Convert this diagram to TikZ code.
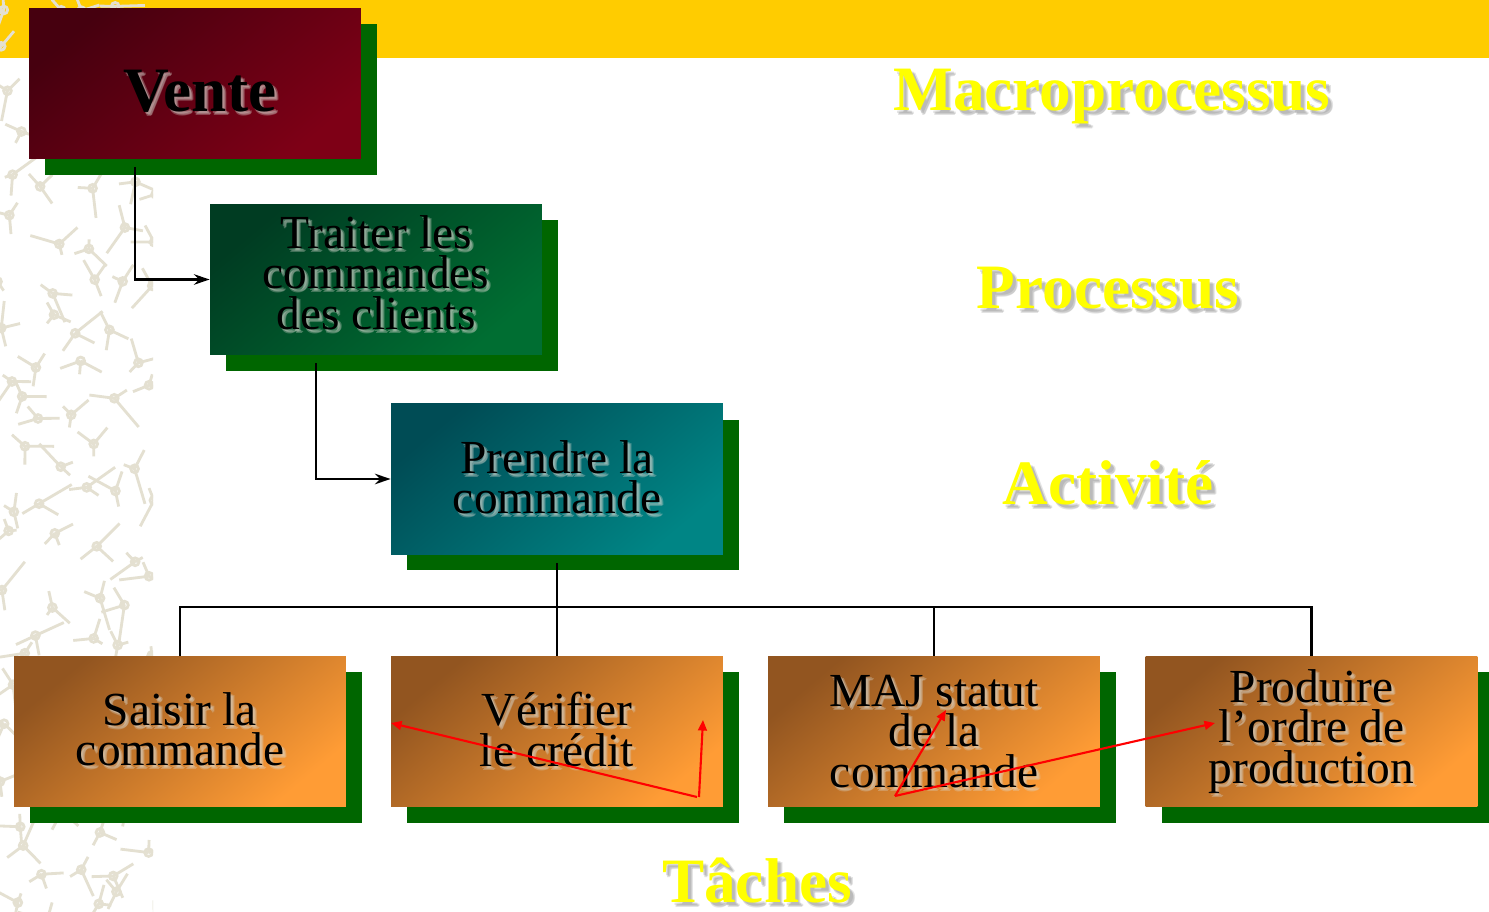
\documentclass[tikz,border=0pt]{standalone}
\usepackage{fontspec}
\setmainfont{Liberation Serif}
\usetikzlibrary{shadows,arrows.meta,calc}

\definecolor{band}{HTML}{FFCC00}
\definecolor{shgreen}{HTML}{006600}
\definecolor{maroonA}{HTML}{46000F}
\definecolor{maroonB}{HTML}{7E0016}
\definecolor{greenA}{HTML}{003C22}
\definecolor{greenB}{HTML}{006E32}
\definecolor{tealA}{HTML}{004C55}
\definecolor{tealB}{HTML}{008585}
\definecolor{orangeA}{HTML}{925520}
\definecolor{orangeB}{HTML}{FF9C35}
\definecolor{motif}{HTML}{E4E0D1}
\definecolor{titleyellow}{HTML}{FFFF00}
\definecolor{arrowred}{HTML}{FF0000}
\definecolor{halo}{HTML}{D8D8D0}

\tikzset{
  box/.style={minimum width=6.64cm, minimum height=3.02cm, inner sep=0pt,
    shading=axis, top color=#1A, bottom color=#1B, shading angle=40,
    drop shadow={shadow xshift=0.32cm, shadow yshift=-0.32cm, fill=shgreen, opacity=1}},
  lbl/.style={align=center, font=\fontsize{27}{23}\selectfont, text=black, inner sep=0pt},
  glow/.style={lbl, text=halo, text opacity=0.3},
  bigword/.style={font=\bfseries\fontsize{36}{40}\selectfont, inner sep=0pt, anchor=base},
  ttl/.style={bigword, text=titleyellow},
  ttlsh/.style={bigword, text=black!55, text opacity=0.2},
  link/.style={line width=1.3pt, draw=black},
  linkarrow/.style={link, -{Stealth[length=9pt,width=6pt]}},
  redarrow/.style={line width=1.2pt, draw=arrowred, -{Triangle[length=6pt,width=5pt]}},
  motifline/.style={draw=motif, line width=1.6pt}
}

% centred box label with a soft light halo
\newcommand\boxlabel[3]{%
  \foreach \dx/\dy in {2/2,4/3,3/4}{%
    \node[glow] (#1-g\dx\dy) at ($(#2)+(\dx,\dy)$) {#3};}%
  \node[lbl] (#1) at (#2) {#3};}

% level title with a grey drop shadow
\newcommand\leveltitle[3]{%
  \foreach \dx/\dy in {3/3,5/4,4/5}{%
    \node[ttlsh] (#1-s\dx\dy) at ($(#2)+(\dx,\dy)$) {#3};}%
  \node[ttl] (#1) at (#2) {#3};}

\begin{document}
\begin{tikzpicture}[x=0.02cm, y=-0.02cm]
\useasboundingbox (0,0) rectangle (1489,912);
\fill[white] (0,0) rectangle (1489,912);

% top band
\fill[band] (0,0) rectangle (1489,58);

% decorative motif along the left edge
\begin{scope}
  \clip (0,0) rectangle (153,912);
  \pgfmathsetseed{4242}
  \foreach \col in {0,...,4}{
    \foreach \row in {0,...,20}{
      \pgfmathsetmacro\cx{\col*38+rnd*30-5}
      \pgfmathsetmacro\cy{\row*45+rnd*36-10}
      \pgfmathsetmacro\aa{rnd*360}
      \pgfmathsetmacro\ab{\aa+60+rnd*90}
      \pgfmathsetmacro\ac{\ab+60+rnd*90}
      \pgfmathsetmacro\la{16+rnd*22}
      \pgfmathsetmacro\lb{10+rnd*16}
      \pgfmathsetmacro\lc{8+rnd*14}
      \draw[motifline] (\cx,\cy) circle[radius=2.2pt];
      \draw[motifline] (\cx,\cy) -- ++(\aa:\la);
      \draw[motifline] (\cx,\cy) -- ++(\ab:\lb);
      \draw[motifline] (\cx,\cy) -- ++(\ac:\lc);
    }
  }
\end{scope}

% boxes
\node[box=maroon] (vente)    at (195,83.5)   {};
\node[box=green]  (traiter)  at (376,279.5)  {};
\node[box=teal]   (prendre)  at (557,479)    {};
\node[box=orange] (saisir)   at (180,731.5)  {};
\node[box=orange] (verifier) at (557,731.5)  {};
\node[box=orange] (maj)      at (934,731.5)  {};
\node[box=orange] (produire) at (1311.5,731.5) {};

% connectors
\draw[linkarrow] ($(vente.south west)+(106,8)$) |- (traiter.west);
\draw[linkarrow] ($(traiter.south west)+(106,8)$) |- (prendre.west);
\coordinate (bus) at (557,607);
\draw[link] ($(prendre.south)+(0,8)$) -- (verifier.north);
\draw[link] (saisir.north) -- (saisir.north |- bus) -- (produire.north |- bus) -- (produire.north);
\draw[link] (maj.north) -- (maj.north |- bus);

% box labels
\foreach \dx/\dy in {2/2,4/3,3/4}{%
  \node[bigword, text=halo, text opacity=0.3] (vente-g\dx\dy) at ($(200,112)+(\dx,\dy)$) {Vente};}
\node[bigword, text=black] (vente-t) at (200,112) {Vente};
\boxlabel{traiter-t}{$(traiter.center)+(0,-7)$}{Traiter les\\commandes\\des clients}
\boxlabel{prendre-t}{$(prendre.center)+(0,-2)$}{Prendre la\\commande}
\boxlabel{saisir-t}{$(saisir.center)+(0,-2)$}{Saisir la\\commande}
\boxlabel{verifier-t}{$(verifier.center)+(0,-2)$}{Vérifier\\le crédit}
\boxlabel{maj-t}{maj.center}{MAJ statut\\de la\\commande}
\boxlabel{produire-t}{produire.center}{Produire\\l’ordre de\\production}

% level titles
\leveltitle{macro}{1112,111}{Macroprocessus}
\leveltitle{proc}{1108,309}{Processus}
\leveltitle{activ}{1108,504}{Activité}
\leveltitle{taches}{757,902}{Tâches}

% red strokes
\coordinate (ra) at (697,797);
\coordinate (rb) at (391,723);
\coordinate (rc) at (699,797);
\coordinate (rd) at (703,720);
\coordinate (re) at (895,796);
\coordinate (rf) at (946,710);
\coordinate (rg) at (1215,723);
\draw[redarrow] (ra) -- (rb);
\draw[redarrow] (rc) -- (rd);
\draw[redarrow] (re) -- (rf);
\draw[redarrow] (re) -- (rg);
\end{tikzpicture}
\end{document}
